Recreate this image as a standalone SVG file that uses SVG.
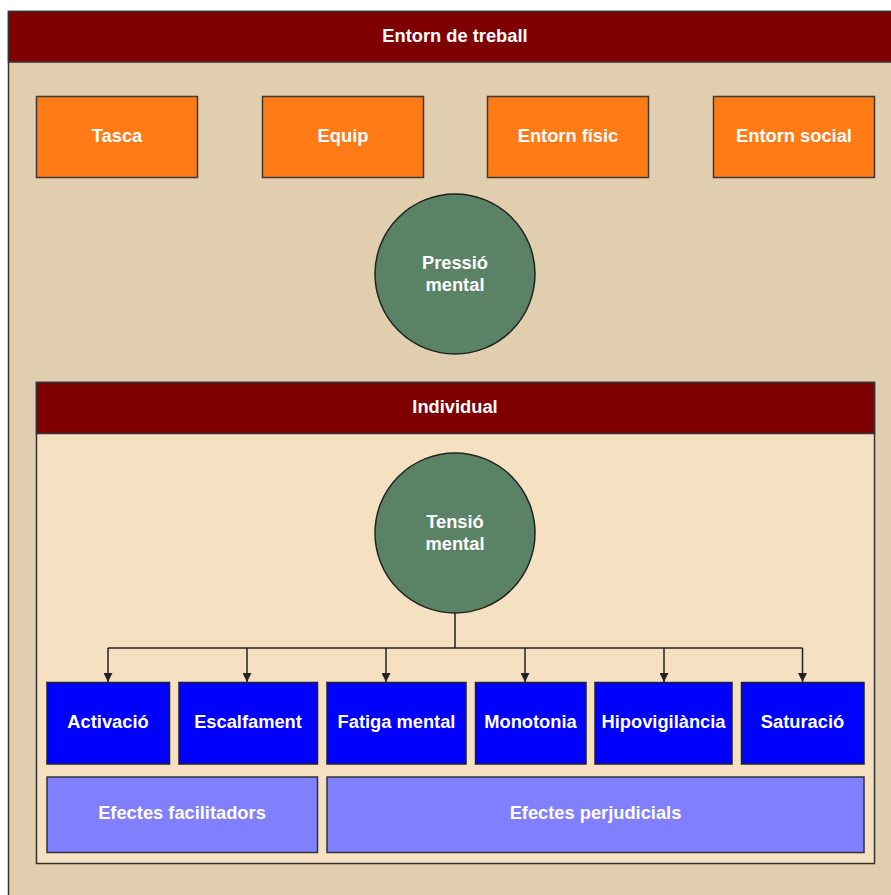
<svg xmlns="http://www.w3.org/2000/svg" width="891" height="895" viewBox="0 0 891 895">
<defs>
<style>
.hdr{fill:#7f0000;stroke:#333;stroke-width:1.5}
.t{font-family:"Liberation Sans",Arial,sans-serif;font-weight:bold;font-size:18.3px;fill:#fff;text-anchor:middle;dominant-baseline:central}
.or{fill:#ff7b15;stroke:#3a3a3a;stroke-width:1.5}
.ci{fill:#5a8366;stroke:#222;stroke-width:1.5}
.bl{fill:#0000fd;stroke:#222;stroke-width:1.5}
.lb{fill:#8080ff;stroke:#333;stroke-width:1.5}
.cn{fill:none;stroke:#222;stroke-width:1.5}
</style>
<marker id="ar" markerWidth="10" markerHeight="9" refX="9" refY="4.5" orient="auto" markerUnits="userSpaceOnUse">
<path d="M0,0 L9,4.5 L0,9 Z" fill="#222"/>
</marker>
</defs>
<rect width="891" height="895" fill="#fff"/>
<g id="entorn">
<rect x="8.5" y="11.5" width="890" height="890" fill="#e0ceae" stroke="#333" stroke-width="1.5"/>
<rect class="hdr" x="8.5" y="11.5" width="890" height="50.5"/>
<text class="t" x="455" y="35">Entorn de treball</text>
</g>
<g id="tasca"><rect class="or" x="36.5" y="96.5" width="161" height="81"/><text class="t" x="117" y="135">Tasca</text></g>
<g id="equip"><rect class="or" x="262.5" y="96.5" width="161" height="81"/><text class="t" x="343" y="135">Equip</text></g>
<g id="fisic"><rect class="or" x="487.5" y="96.5" width="161" height="81"/><text class="t" x="568" y="135">Entorn físic</text></g>
<g id="social"><rect class="or" x="713.5" y="96.5" width="161" height="81"/><text class="t" x="794" y="135">Entorn social</text></g>
<g id="pressio"><circle class="ci" cx="455" cy="274" r="80"/><text class="t" x="455" y="262">Pressió</text><text class="t" x="455" y="284">mental</text></g>
<g id="individual">
<rect x="36.5" y="382.5" width="838" height="481" fill="#f5e1c2" stroke="#333" stroke-width="1.5"/>
<rect class="hdr" x="36.5" y="382.5" width="838" height="51"/>
<text class="t" x="455" y="406">Individual</text>
</g>
<g id="tensio"><circle class="ci" cx="455" cy="533" r="80"/><text class="t" x="455" y="521">Tensió</text><text class="t" x="455" y="543">mental</text></g>
<g id="connectors">
<path class="cn" d="M455,613 V648 M108,648 H802.5"/>
<path class="cn" d="M108,648 V682" marker-end="url(#ar)"/>
<path class="cn" d="M247,648 V682" marker-end="url(#ar)"/>
<path class="cn" d="M386,648 V682" marker-end="url(#ar)"/>
<path class="cn" d="M525,648 V682" marker-end="url(#ar)"/>
<path class="cn" d="M664,648 V682" marker-end="url(#ar)"/>
<path class="cn" d="M802.5,648 V682" marker-end="url(#ar)"/>
</g>
<g id="activacio"><rect class="bl" x="47" y="682.5" width="122.5" height="81.5"/><text class="t" x="108" y="721">Activació</text></g>
<g id="escalfament"><rect class="bl" x="179" y="682.5" width="138.5" height="81.5"/><text class="t" x="248" y="721">Escalfament</text></g>
<g id="fatiga"><rect class="bl" x="327" y="682.5" width="139" height="81.5"/><text class="t" x="396.5" y="721">Fatiga mental</text></g>
<g id="monotonia"><rect class="bl" x="475.5" y="682.5" width="110.5" height="81.5"/><text class="t" x="530.5" y="721">Monotonia</text></g>
<g id="hipovigilancia"><rect class="bl" x="595" y="682.5" width="137" height="81.5"/><text class="t" x="663.5" y="721">Hipovigilància</text></g>
<g id="saturacio"><rect class="bl" x="741.5" y="682.5" width="122.5" height="81.5"/><text class="t" x="802.5" y="721">Saturació</text></g>
<g id="facilitadors"><rect class="lb" x="47" y="777" width="270.5" height="75.5"/><text class="t" x="182" y="812">Efectes facilitadors</text></g>
<g id="perjudicials"><rect class="lb" x="327" y="777" width="537" height="75.5"/><text class="t" x="595.5" y="812">Efectes perjudicials</text></g>
</svg>
